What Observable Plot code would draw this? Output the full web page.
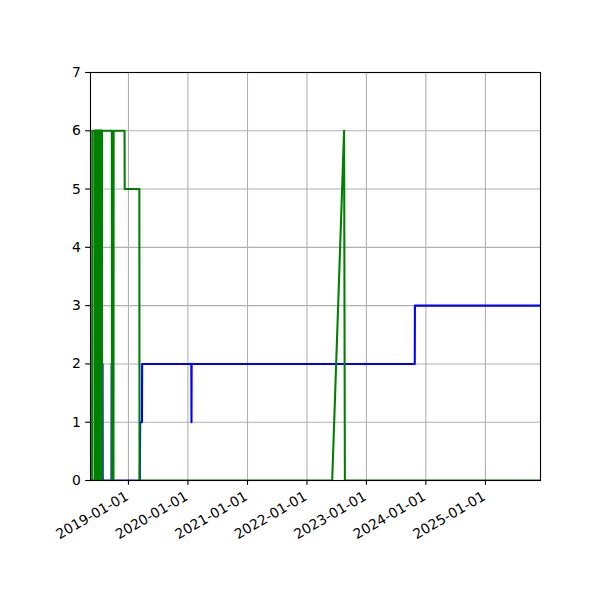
<!DOCTYPE html>
<html>
<head>
<meta charset="utf-8">
<script src="https://cdn.jsdelivr.net/npm/d3@7"></script>
<script src="https://cdn.jsdelivr.net/npm/@observablehq/plot@0.6"></script>
<style>
  html, body { margin: 0; padding: 0; background: white; }
</style>
</head>
<body>
<div id="chart"></div>
<script>
// ---- data ----
const greenDates = [
  "2018-05-23","2018-05-24","2018-06-07","2018-06-08","2018-06-09","2018-06-10",
  "2018-06-11","2018-06-12","2018-06-13","2018-06-14","2018-06-15","2018-06-16",
  "2018-06-17","2018-06-18","2018-06-19","2018-06-20","2018-06-21","2018-06-22",
  "2018-06-23","2018-06-24","2018-06-25","2018-06-26","2018-06-27","2018-06-28",
  "2018-06-29","2018-06-30","2018-07-01","2018-07-02","2018-07-03","2018-07-04",
  "2018-07-05","2018-07-06","2018-07-07","2018-07-08","2018-07-09","2018-07-10",
  "2018-07-11","2018-07-12","2018-07-13","2018-07-14","2018-07-15","2018-07-16",
  "2018-07-17","2018-07-18","2018-07-19","2018-07-20","2018-07-21","2018-07-22",
  "2018-07-23","2018-07-24","2018-09-21","2018-09-22","2018-10-01","2018-10-02",
  "2018-12-08","2018-12-09","2019-03-09","2019-03-10","2022-06-05","2022-08-17",
  "2022-08-22","2025-12-05"
];
const greenValues = [
  0,6,6,0,6,0,
  6,0,6,0,6,0,
  6,0,6,0,6,0,
  6,0,6,0,6,0,
  6,0,6,0,6,0,
  6,0,6,0,6,0,
  6,0,6,0,6,0,
  6,0,6,0,6,0,
  6,6,6,0,0,6,
  6,5,5,0,0,6,
  0,0
];
const blueDates = [
  "2018-05-13","2018-07-25","2018-07-26","2018-07-27","2018-09-19","2018-09-20",
  "2018-09-21","2019-03-12","2019-03-14","2019-03-25","2019-03-26","2020-01-22",
  "2020-01-23","2020-01-24","2023-10-25","2023-10-26","2025-12-05"
];
const blueValues = [
  0,0,2,0,0,2,
  0,0,1,1,2,2,
  1,2,2,3,3
];
const xTickLabels = ["2019-01-01","2020-01-01","2021-01-01","2022-01-01","2023-01-01","2024-01-01","2025-01-01"];
const yTickValues = [0,1,2,3,4,5,6,7];
const xDomain = ["2018-05-13","2025-12-05"];

// ---- build ----
const parse = d3.utcParse("%Y-%m-%d");
const green = greenDates.map((d, i) => ({date: parse(d), value: greenValues[i]}));
const blue = blueDates.map((d, i) => ({date: parse(d), value: blueValues[i]}));
const xTicks = xTickLabels.map(parse);
const fmt = d3.utcFormat("%Y-%m-%d");

const chart = Plot.plot({
  width: 600,
  height: 600,
  marginLeft: 90,
  marginRight: 60,
  marginTop: 72,
  marginBottom: 120,
  style: {fontFamily: "DejaVu Sans", fontSize: "13.9px", background: "white", color: "black"},
  x: {type: "utc", domain: xDomain.map(parse)},
  y: {domain: [0, 7]},
  marks: [
    Plot.gridX(xTicks, {stroke: "#b0b0b0", strokeOpacity: 1, strokeWidth: 1.1}),
    Plot.gridY(yTickValues, {stroke: "#b0b0b0", strokeOpacity: 1, strokeWidth: 1.1}),
    Plot.line(blue, {x: "date", y: "value", stroke: "#0000ff", strokeWidth: 2.08, clip: true, curve: "linear"}),
    Plot.line(green, {x: "date", y: "value", stroke: "#008000", strokeWidth: 2.08, clip: true, curve: "linear"}),
    Plot.frame({stroke: "black", strokeWidth: 1.1}),
    Plot.axisY(yTickValues, {tickSize: 4.86, tickPadding: 4.86, fontSize: 13.9, strokeWidth: 1.1, label: null, tickFormat: d => String(d)}),
    Plot.axisX(xTicks, {tickSize: 4.86, strokeWidth: 1.1, label: null, tickFormat: () => ""}),
    Plot.text(xTicks, {x: d => d, frameAnchor: "bottom", text: d => fmt(d), rotate: -30, textAnchor: "end", lineAnchor: "top", dy: 10, dx: -4, fontSize: 13.9})
  ]
});
document.getElementById("chart").appendChild(chart);
</script>
</body>
</html>
